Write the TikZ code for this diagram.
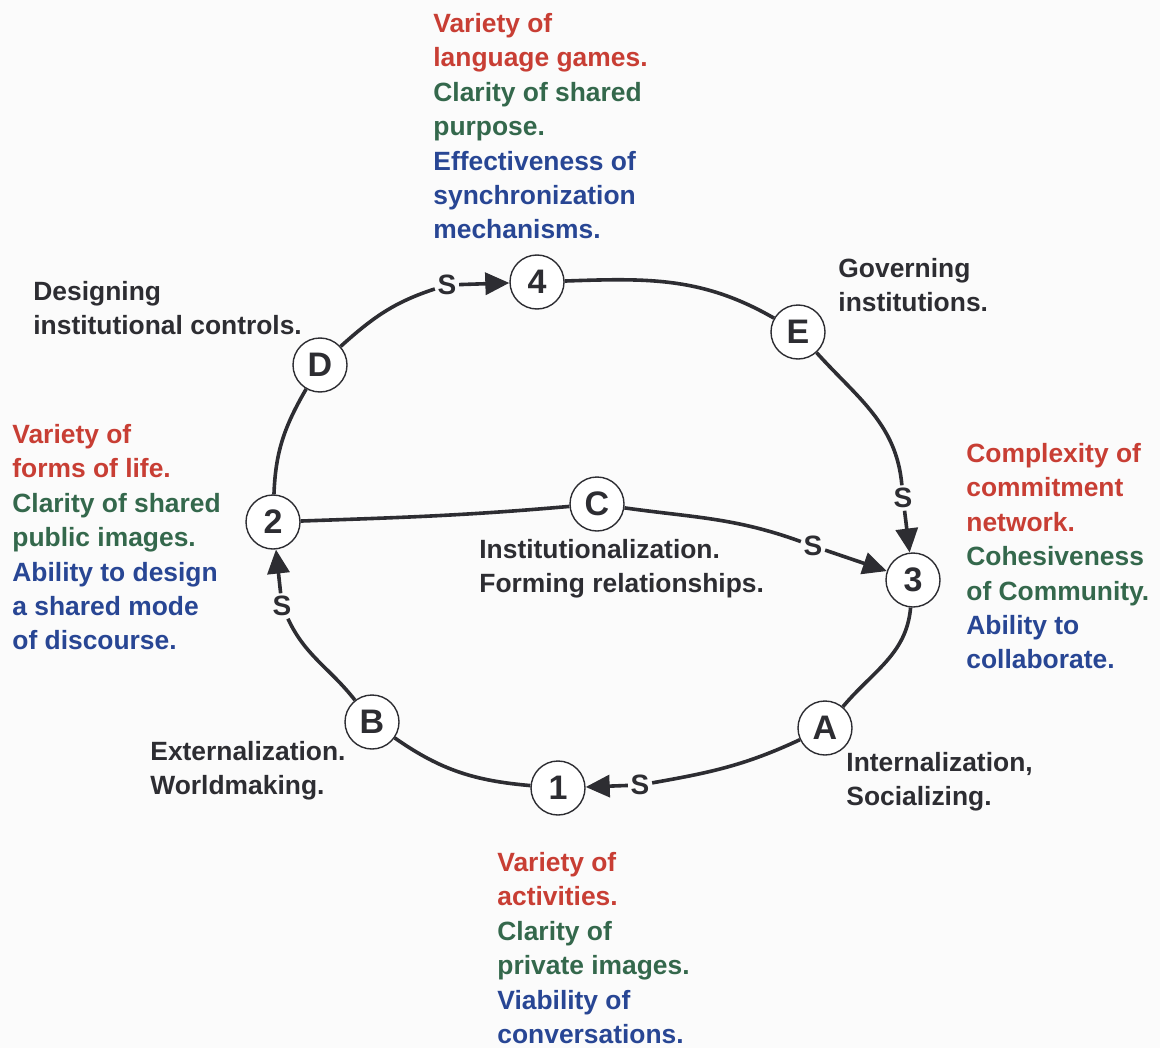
\documentclass[tikz,border=0pt]{standalone}
\usepackage{fontspec}
\setmainfont{Liberation Sans}
\usetikzlibrary{arrows.meta}
\definecolor{txtred}{RGB}{200,62,52}
\definecolor{txtgreen}{RGB}{52,104,76}
\definecolor{txtblue}{RGB}{40,70,148}
\definecolor{ink}{RGB}{45,45,50}
\begin{document}
\begin{tikzpicture}[
		x=0.5pt,y=0.5pt,
		stage/.style={circle,draw=ink,line width=0.7pt,fill=white,minimum size=27pt,inner sep=0pt,text=ink,font=\bfseries\fontsize{17}{17}\selectfont},
		slabel/.style={inner sep=1.2pt,text=ink,font=\bfseries\fontsize{14}{14}\selectfont},
		note/.style={anchor=north west,inner sep=0pt,align=left,text=ink,font=\bfseries\fontsize{13.2}{17.2}\selectfont},
		flow/.style={draw=ink,line width=1.8pt},
		push/.style={flow,-{Triangle[length=12pt,width=11pt]}}
	]
	\useasboundingbox[fill=gray!3] (0,0) rectangle (1160,-1048);

	\node[stage] (st4) at (537,-282) {4};
	\node[stage] (stE) at (798,-332) {E};
	\node[stage] (stD) at (320,-365) {D};
	\node[stage] (st2) at (273,-522) {2};
	\node[stage] (stC) at (597,-504) {C};
	\node[stage] (st3) at (913,-580) {3};
	\node[stage] (stB) at (372,-722) {B};
	\node[stage] (stA) at (825,-728) {A};
	\node[stage] (st1) at (558,-788) {1};

	\node[slabel] (s4) at (447,-285) {S};
	\node[slabel] (s3top) at (903,-498) {S};
	\node[slabel] (s3mid) at (813,-546) {S};
	\node[slabel] (s2) at (282,-606) {S};
	\node[slabel] (s1) at (640,-785) {S};

	\draw[flow] (stD) to[out=42,in=198] (s4);
	\draw[push] (s4) -- (st4);
	\draw[flow] (st4) to[out=2,in=150] (stE);
	\draw[flow] (stE) to[out=-48,in=95] (s3top);
	\draw[push] (s3top) -- (st3);
	\draw[flow] (st3) to[out=-95,in=50] (stA);
	\draw[flow] (stA) to[out=205,in=10] (s1);
	\draw[push] (s1) -- (st1);
	\draw[flow] (st1) to[out=175,in=-35] (stB);
	\draw[flow] (stB) to[out=128,in=-65] (s2);
	\draw[push] (s2) -- (st2);
	\draw[flow] (st2) to[out=88,in=-120] (stD);
	\draw[flow] (st2) to[out=2,in=185] (stC);
	\draw[flow] (stC) to[out=-8,in=160] (s3mid);
	\draw[push] (s3mid) -- (st3);

	\node[note] (top) at (433,-13) {\textcolor{txtred}{Variety of}\\\textcolor{txtred}{language games.}\\\textcolor{txtgreen}{Clarity of shared}\\\textcolor{txtgreen}{purpose.}\\\textcolor{txtblue}{Effectiveness of}\\\textcolor{txtblue}{synchronization}\\\textcolor{txtblue}{mechanisms.}};
	\node[note] (designing) at (33,-281) {Designing\\institutional controls.};
	\node[note] (governing) at (838,-258) {Governing\\institutions.};
	\node[note] (left) at (12,-424) {\textcolor{txtred}{Variety of}\\\textcolor{txtred}{forms of life.}\\\textcolor{txtgreen}{Clarity of shared}\\\textcolor{txtgreen}{public images.}\\\textcolor{txtblue}{Ability to design}\\\textcolor{txtblue}{a shared mode}\\\textcolor{txtblue}{of discourse.}};
	\node[note] (right) at (966,-443) {\textcolor{txtred}{Complexity of}\\\textcolor{txtred}{commitment}\\\textcolor{txtred}{network.}\\\textcolor{txtgreen}{Cohesiveness}\\\textcolor{txtgreen}{of Community.}\\\textcolor{txtblue}{Ability to}\\\textcolor{txtblue}{collaborate.}};
	\node[note] (institution) at (479,-539) {Institutionalization.\\Forming relationships.};
	\node[note] (external) at (150,-741) {Externalization.\\Worldmaking.};
	\node[note] (internal) at (846,-752) {Internalization,\\Socializing.};
	\node[note] (bottom) at (497,-852) {\textcolor{txtred}{Variety of}\\\textcolor{txtred}{activities.}\\\textcolor{txtgreen}{Clarity of}\\\textcolor{txtgreen}{private images.}\\\textcolor{txtblue}{Viability of}\\\textcolor{txtblue}{conversations.}};
\end{tikzpicture}
\end{document}
